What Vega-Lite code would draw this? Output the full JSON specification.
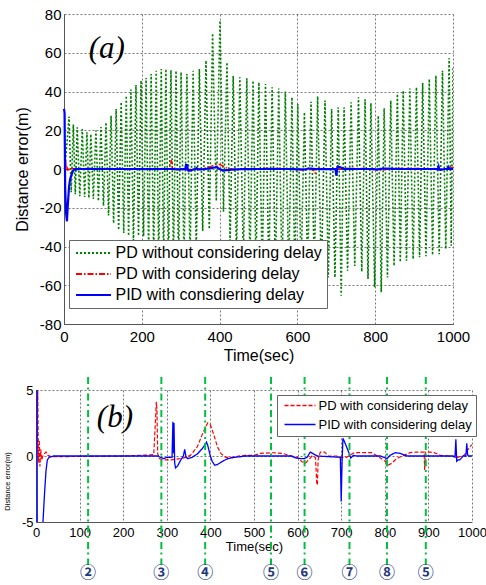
{
  "$schema": "https://vega.github.io/schema/vega-lite/v6.json",
  "padding": {"left": 3, "top": 7, "right": 0, "bottom": 0},
  "background": "white",
  "config": {
    "font": "Liberation Sans",
    "view": {"stroke": null},
    "locale": {"number": {"decimal": ".", "thousands": ",", "grouping": [3], "currency": ["$", ""], "minus": "-"}},
    "axis": {"ticks": false, "labelFlush": false, "labelOverlap": false, "domainColor": "#555555", "gridColor": "#555555", "gridDash": [2, 2], "gridWidth": 0.8, "gridOpacity": 1, "titleFontWeight": "normal", "labelColor": "black", "titleColor": "black", "grid": true},
    "legend": {"labelColor": "black", "labelFont": "Liberation Sans"}
  },
  "datasets": {
    "green": [{"t":3,"v":2},{"t":13,"v":27},{"t":18.5,"v":-12},{"t":24,"v":23},{"t":29,"v":-13},{"t":34,"v":21.5},{"t":40.5,"v":-14},{"t":47,"v":20.6},{"t":53,"v":-14.5},{"t":59,"v":19},{"t":64,"v":-15},{"t":69,"v":18},{"t":75.5,"v":-15.5},{"t":82,"v":19.8},{"t":88.5,"v":-16.5},{"t":95,"v":21.6},{"t":101.5,"v":-19},{"t":108,"v":24},{"t":114.5,"v":-24},{"t":121,"v":27.5},{"t":127.5,"v":-28},{"t":134,"v":31},{"t":140.5,"v":-31.5},{"t":147,"v":34.5},{"t":153.5,"v":-33},{"t":160,"v":37.8},{"t":166,"v":-34.5},{"t":172,"v":41},{"t":178.5,"v":-38},{"t":185,"v":43.4},{"t":191.5,"v":-34.5},{"t":198,"v":45.6},{"t":204.5,"v":-34.8},{"t":211,"v":47},{"t":217.5,"v":-42},{"t":224,"v":49},{"t":230.5,"v":-45},{"t":237,"v":50.7},{"t":243.5,"v":-47},{"t":250,"v":51.6},{"t":256,"v":-48},{"t":262,"v":51.6},{"t":268.5,"v":-50},{"t":275,"v":51},{"t":281.5,"v":-50},{"t":288,"v":50.7},{"t":294.5,"v":-50},{"t":301,"v":50},{"t":308.5,"v":-48},{"t":316,"v":49},{"t":324,"v":-46},{"t":332,"v":50.7},{"t":340,"v":-42},{"t":348,"v":51.6},{"t":356.5,"v":-32},{"t":365,"v":56},{"t":373.5,"v":-31},{"t":382,"v":70},{"t":391.5,"v":-16.5},{"t":401,"v":76.6},{"t":410,"v":-22},{"t":419,"v":55},{"t":427,"v":-38},{"t":435,"v":48},{"t":443.5,"v":-44},{"t":452,"v":47.3},{"t":461,"v":-46},{"t":470,"v":46.8},{"t":478,"v":-48},{"t":486,"v":45.6},{"t":493.5,"v":-50},{"t":501,"v":44.7},{"t":509.5,"v":-52},{"t":518,"v":43.9},{"t":526.5,"v":-53},{"t":535,"v":42.2},{"t":543.5,"v":-54},{"t":552,"v":41.6},{"t":560.5,"v":-55},{"t":569,"v":40},{"t":577.5,"v":-55},{"t":586,"v":37},{"t":593.5,"v":-55},{"t":601,"v":33.5},{"t":609.5,"v":-54},{"t":618,"v":29.3},{"t":626.5,"v":-52},{"t":635,"v":34.7},{"t":643.5,"v":-53},{"t":652,"v":37.5},{"t":661.5,"v":-55},{"t":671,"v":35.3},{"t":679.5,"v":-56},{"t":688,"v":31},{"t":696.5,"v":-56},{"t":705,"v":31.8},{"t":712.5,"v":-65.4},{"t":720,"v":31.8},{"t":729,"v":-52.5},{"t":738,"v":34.4},{"t":747.5,"v":-50},{"t":757,"v":37},{"t":765.5,"v":-53},{"t":774,"v":36},{"t":781.5,"v":-56.8},{"t":789,"v":34},{"t":798.5,"v":-61},{"t":808,"v":27.5},{"t":815.5,"v":-63.6},{"t":823,"v":31.3},{"t":831.5,"v":-56},{"t":840,"v":35.3},{"t":848.5,"v":-50},{"t":857,"v":38.7},{"t":864.5,"v":-48},{"t":872,"v":40.4},{"t":880.5,"v":-47.3},{"t":889,"v":41.6},{"t":897.5,"v":-46.5},{"t":906,"v":42.2},{"t":914,"v":-45.6},{"t":922,"v":44.4},{"t":930.5,"v":-45},{"t":939,"v":46.5},{"t":947.5,"v":-44.4},{"t":956,"v":48.2},{"t":964.5,"v":-44},{"t":973,"v":50.7},{"t":981.5,"v":-41.3},{"t":990,"v":57.1},{"t":995.5,"v":-39.6},{"t":1000,"v":52}],
    "red": [{"t":0,"v":0},{"t":2,"v":0.5},{"t":4,"v":5},{"t":5.5,"v":-0.5},{"t":7.5,"v":1.2},{"t":9,"v":-0.8},{"t":11,"v":0.5},{"t":13,"v":-0.3},{"t":16,"v":0.05},{"t":20,"v":0.2},{"t":23,"v":0.3},{"t":27,"v":0.05},{"t":35,"v":-0.05},{"t":120,"v":-0.03},{"t":200,"v":0},{"t":260,"v":0.08},{"t":270,"v":0.1},{"t":273,"v":2.0},{"t":276,"v":4.1},{"t":277.5,"v":3.5},{"t":279,"v":0.2},{"t":283,"v":-0.2},{"t":290,"v":-0.3},{"t":310,"v":-0.3},{"t":318,"v":-0.25},{"t":330,"v":-0.2},{"t":345,"v":-0.1},{"t":355,"v":0.08},{"t":370,"v":0.7},{"t":381,"v":1.6},{"t":389,"v":2.2},{"t":394,"v":2.5},{"t":400,"v":2.35},{"t":408,"v":1.6},{"t":416,"v":0.7},{"t":424,"v":0.2},{"t":435,"v":-0.1},{"t":450,"v":-0.1},{"t":465,"v":0},{"t":480,"v":0.05},{"t":500,"v":0.05},{"t":515,"v":0.2},{"t":540,"v":0.25},{"t":565,"v":0.2},{"t":580,"v":0.05},{"t":599,"v":-0.1},{"t":610,"v":-0.43},{"t":618,"v":-0.55},{"t":625,"v":-0.3},{"t":633,"v":0},{"t":641,"v":-0.1},{"t":644,"v":-2.1},{"t":645.5,"v":-2.2},{"t":647,"v":-0.3},{"t":652,"v":0.3},{"t":662,"v":0.3},{"t":670,"v":0},{"t":690,"v":0},{"t":700,"v":-0.1},{"t":712,"v":-0.1},{"t":720,"v":0.05},{"t":730,"v":0.25},{"t":770,"v":0.25},{"t":780,"v":0.05},{"t":790,"v":-0.15},{"t":801,"v":-0.4},{"t":808,"v":-0.68},{"t":816,"v":-0.55},{"t":827,"v":-0.2},{"t":843,"v":0.05},{"t":858,"v":0.25},{"t":873,"v":0.3},{"t":890,"v":0.3},{"t":891.5,"v":-1.06},{"t":893,"v":0.3},{"t":904,"v":0.3},{"t":913,"v":0.25},{"t":928,"v":0.05},{"t":945,"v":0},{"t":960,"v":0},{"t":967,"v":-0.1},{"t":982,"v":0.05},{"t":995,"v":0.7},{"t":1000,"v":0.85}],
    "blue": [{"t":0,"v":31},{"t":1.5,"v":29},{"t":3,"v":-10},{"t":5,"v":-22},{"t":7.5,"v":-27},{"t":10,"v":-18},{"t":13,"v":-9},{"t":16,"v":-5},{"t":18,"v":-3.8},{"t":20,"v":-2.6},{"t":23,"v":-1.1},{"t":26,"v":-0.3},{"t":30,"v":-0.1},{"t":40,"v":0},{"t":280,"v":0},{"t":285,"v":-0.1},{"t":293,"v":-0.2},{"t":300,"v":-0.1},{"t":312,"v":-0.1},{"t":314,"v":2.6},{"t":315.5,"v":0.2},{"t":316.5,"v":2.5},{"t":318,"v":-0.5},{"t":320,"v":-0.9},{"t":325,"v":-0.75},{"t":332,"v":-0.3},{"t":338,"v":0},{"t":341,"v":0.5},{"t":344,"v":-0.05},{"t":348,"v":-0.2},{"t":358,"v":-0.1},{"t":370,"v":0.15},{"t":381,"v":0.55},{"t":389,"v":0.9},{"t":391,"v":1.05},{"t":394,"v":0.8},{"t":399,"v":0.1},{"t":404,"v":-0.4},{"t":410,"v":-0.7},{"t":416,"v":-0.65},{"t":428,"v":-0.4},{"t":440,"v":-0.2},{"t":455,"v":-0.1},{"t":470,"v":-0.05},{"t":480,"v":0},{"t":585,"v":0},{"t":596,"v":-0.15},{"t":608,"v":-0.2},{"t":614,"v":-0.2},{"t":622,"v":-0.1},{"t":629,"v":0.3},{"t":637,"v":0.15},{"t":645,"v":0},{"t":698,"v":-0.1},{"t":700,"v":-3.45},{"t":702,"v":-0.5},{"t":704,"v":1.35},{"t":706,"v":1.2},{"t":711,"v":0.8},{"t":717,"v":0.3},{"t":722,"v":-0.15},{"t":728,"v":0.05},{"t":736,"v":0},{"t":790,"v":0},{"t":798,"v":-0.1},{"t":805,"v":-0.2},{"t":812,"v":0.05},{"t":824,"v":0.25},{"t":835,"v":0.2},{"t":851,"v":0},{"t":955,"v":0},{"t":961,"v":-0.1},{"t":963,"v":1.26},{"t":965,"v":-0.4},{"t":968,"v":-0.3},{"t":972,"v":-0.3},{"t":980,"v":0},{"t":986,"v":0},{"t":988,"v":0.96},{"t":990,"v":0.1},{"t":992,"v":0},{"t":1000,"v":0}],
    "events": [{"t":119.5,"n":"②"},{"t":287.5,"n":"③"},{"t":388,"n":"④"},{"t":539,"n":"⑤"},{"t":616,"n":"⑥"},{"t":719,"n":"⑦"},{"t":805,"n":"⑧"},{"t":894,"n":"⑤"}]
  },
  "spacing": 13,
  "resolve": {
    "scale": {"color": "independent", "strokeDash": "independent"},
    "legend": {"color": "independent", "strokeDash": "independent"}
  },
  "vconcat": [
    {
      "width": 417,
      "height": 310,
      "layer": [
        {
          "data": {"name": "green"},
          "mark": {"type": "line", "strokeWidth": 1.6, "clip": true},
          "encoding": {
            "x": {"field": "t", "type": "quantitative", "scale": {"domain": [0, 1000], "range": [28, 417], "nice": false, "zero": false},
                  "axis": {"values": [0, 200, 400, 600, 800, 1000], "format": "d", "labelFontSize": 15, "labelPadding": 5, "title": "Time(sec)", "titleFontSize": 16, "titlePadding": 3}},
            "y": {"field": "v", "type": "quantitative", "scale": {"domain": [-80, 80], "nice": false, "zero": false},
                  "axis": {"values": [-80, -60, -40, -20, 0, 20, 40, 60, 80], "format": "d", "labelFontSize": 15, "labelPadding": 3, "title": "Distance error(m)", "titleFontSize": 16, "titleX": -34, "offset": -28}},
            "color": {"datum": "PD without considering delay", "type": "nominal",
                      "scale": {"domain": ["PD without considering delay", "PD with considering delay", "PID with consdiering delay"], "range": ["#008000", "#ff0000", "#0000ff"]},
                      "legend": {"orient": "none", "legendX": 33, "legendY": 226, "title": null, "symbolType": "M-2.5,0H2.5", "symbolSize": 196, "symbolOffset": 11.5, "symbolStrokeWidth": 1.8, "labelFontSize": 16, "labelOffset": 14, "labelLimit": 400, "padding": 5, "rowPadding": 5, "fillColor": "white", "strokeColor": "#666666"}},
            "strokeDash": {"datum": "PD without considering delay", "type": "nominal",
                      "scale": {"domain": ["PD without considering delay", "PD with considering delay", "PID with consdiering delay"], "range": [[2, 2], [6, 2, 1.5, 2], [1, 0]]},
                      "legend": {"orient": "none", "legendX": 33, "legendY": 226, "title": null, "symbolType": "M-2.5,0H2.5", "symbolSize": 196, "symbolOffset": 11.5, "symbolStrokeWidth": 1.8, "labelFontSize": 16, "labelOffset": 14, "labelLimit": 400, "padding": 5, "rowPadding": 5, "fillColor": "white", "strokeColor": "#666666"}}
          }
        },
        {
          "data": {"name": "red"},
          "mark": {"type": "line", "strokeWidth": 1.5, "clip": true},
          "encoding": {
            "x": {"field": "t", "type": "quantitative", "scale": {"domain": [0, 1000], "range": [28, 417], "nice": false, "zero": false},
                  "axis": {"values": [0, 200, 400, 600, 800, 1000], "format": "d", "labelFontSize": 15, "labelPadding": 5, "title": "Time(sec)", "titleFontSize": 16, "titlePadding": 3}},
            "y": {"field": "v", "type": "quantitative", "scale": {"domain": [-80, 80], "nice": false, "zero": false},
                  "axis": {"values": [-80, -60, -40, -20, 0, 20, 40, 60, 80], "format": "d", "labelFontSize": 15, "labelPadding": 3, "title": "Distance error(m)", "titleFontSize": 16, "titleX": -34, "offset": -28}},
            "color": {"datum": "PD with considering delay", "type": "nominal"},
            "strokeDash": {"datum": "PD with considering delay", "type": "nominal"}
          }
        },
        {
          "data": {"name": "blue"},
          "mark": {"type": "line", "strokeWidth": 2.2, "clip": true},
          "encoding": {
            "x": {"field": "t", "type": "quantitative", "scale": {"domain": [0, 1000], "range": [28, 417], "nice": false, "zero": false},
                  "axis": {"values": [0, 200, 400, 600, 800, 1000], "format": "d", "labelFontSize": 15, "labelPadding": 5, "title": "Time(sec)", "titleFontSize": 16, "titlePadding": 3}},
            "y": {"field": "v", "type": "quantitative", "scale": {"domain": [-80, 80], "nice": false, "zero": false},
                  "axis": {"values": [-80, -60, -40, -20, 0, 20, 40, 60, 80], "format": "d", "labelFontSize": 15, "labelPadding": 3, "title": "Distance error(m)", "titleFontSize": 16, "titleX": -34, "offset": -28}},
            "color": {"datum": "PID with consdiering delay", "type": "nominal"},
            "strokeDash": {"datum": "PID with consdiering delay", "type": "nominal"}
          }
        },
        {
          "data": {"values": [{}]},
          "mark": {"type": "text", "text": "(a)", "font": "Liberation Serif", "fontStyle": "italic", "fontSize": 31, "color": "black", "baseline": "middle", "align": "center"},
          "encoding": {
            "x": {"datum": 110, "type": "quantitative", "scale": {"domain": [0, 1000], "range": [28, 417], "nice": false, "zero": false},
                  "axis": {"values": [0, 200, 400, 600, 800, 1000], "format": "d", "labelFontSize": 15, "labelPadding": 5, "title": "Time(sec)", "titleFontSize": 16, "titlePadding": 3}},
            "y": {"datum": 62, "type": "quantitative", "scale": {"domain": [-80, 80], "nice": false, "zero": false},
                  "axis": {"values": [-80, -60, -40, -20, 0, 20, 40, 60, 80], "format": "d", "labelFontSize": 15, "labelPadding": 3, "title": "Distance error(m)", "titleFontSize": 16, "titleX": -34, "offset": -28}}
          }
        }
      ]
    },
    {
      "width": 436,
      "height": 132,
      "layer": [
        {
          "data": {"name": "red"},
          "mark": {"type": "line", "strokeWidth": 1.2, "clip": true},
          "encoding": {
            "x": {"field": "t", "type": "quantitative", "scale": {"domain": [0, 1000], "nice": false, "zero": false},
                  "axis": {"values": [0, 100, 200, 300, 400, 500, 600, 700, 800, 900, 1000], "format": "d", "labelFontSize": 13, "labelPadding": 4, "title": "Time(sec)", "titleFontSize": 13, "titlePadding": 1}},
            "y": {"field": "v", "type": "quantitative", "scale": {"domain": [-5, 5], "nice": false, "zero": false},
                  "axis": {"values": [-5, 0, 5], "format": "d", "labelFontSize": 13, "labelPadding": 3, "title": "Distance error(m)", "titleFontSize": 7.5, "titleX": -24.5, "titleY": 91, "minExtent": 18, "maxExtent": 18}},
            "color": {"datum": "PD with considering delay", "type": "nominal",
                      "scale": {"domain": ["PD with considering delay", "PID with considering delay"], "range": ["#ff0000", "#0000ff"]},
                      "legend": {"orient": "none", "legendX": 241, "legendY": 5, "title": null, "symbolType": "M-3.1,0H3.1", "symbolSize": 100, "symbolOffset": 12.5, "symbolStrokeWidth": 1.3, "labelFontSize": 13, "labelOffset": 12, "labelLimit": 400, "padding": 4, "rowPadding": 5, "fillColor": "white", "strokeColor": "#666666"}},
            "strokeDash": {"datum": "PD with considering delay", "type": "nominal",
                      "scale": {"domain": ["PD with considering delay", "PID with considering delay"], "range": [[4, 2], [1, 0]]},
                      "legend": {"orient": "none", "legendX": 241, "legendY": 5, "title": null, "symbolType": "M-3.1,0H3.1", "symbolSize": 100, "symbolOffset": 12.5, "symbolStrokeWidth": 1.3, "labelFontSize": 13, "labelOffset": 12, "labelLimit": 400, "padding": 4, "rowPadding": 5, "fillColor": "white", "strokeColor": "#666666"}}
          }
        },
        {
          "data": {"name": "blue"},
          "mark": {"type": "line", "strokeWidth": 1.3, "clip": true},
          "encoding": {
            "x": {"field": "t", "type": "quantitative", "scale": {"domain": [0, 1000], "nice": false, "zero": false},
                  "axis": {"values": [0, 100, 200, 300, 400, 500, 600, 700, 800, 900, 1000], "format": "d", "labelFontSize": 13, "labelPadding": 4, "title": "Time(sec)", "titleFontSize": 13, "titlePadding": 1}},
            "y": {"field": "v", "type": "quantitative", "scale": {"domain": [-5, 5], "nice": false, "zero": false},
                  "axis": {"values": [-5, 0, 5], "format": "d", "labelFontSize": 13, "labelPadding": 3, "title": "Distance error(m)", "titleFontSize": 7.5, "titleX": -24.5, "titleY": 91, "minExtent": 18, "maxExtent": 18}},
            "color": {"datum": "PID with considering delay", "type": "nominal"},
            "strokeDash": {"datum": "PID with considering delay", "type": "nominal"}
          }
        },
        {
          "data": {"name": "events"},
          "mark": {"type": "rule", "color": "#00c040", "strokeWidth": 2, "strokeDash": [7, 3.5, 2, 4], "clip": false},
          "encoding": {
            "x": {"field": "t", "type": "quantitative", "scale": {"domain": [0, 1000], "nice": false, "zero": false},
                  "axis": {"values": [0, 100, 200, 300, 400, 500, 600, 700, 800, 900, 1000], "format": "d", "labelFontSize": 13, "labelPadding": 4, "title": "Time(sec)", "titleFontSize": 13, "titlePadding": 1}},
            "y": {"datum": 5.98, "type": "quantitative", "scale": {"domain": [-5, 5], "nice": false, "zero": false},
                  "axis": {"values": [-5, 0, 5], "format": "d", "labelFontSize": 13, "labelPadding": 3, "title": "Distance error(m)", "titleFontSize": 7.5, "titleX": -24.5, "titleY": 91, "minExtent": 18, "maxExtent": 18}},
            "y2": {"datum": -8.26}
          }
        },
        {
          "data": {"name": "events"},
          "mark": {"type": "text", "font": "Noto Sans CJK JP", "fontSize": 16, "fontWeight": "bold", "color": "#1f3a7a", "baseline": "middle", "align": "center", "clip": false},
          "encoding": {
            "x": {"field": "t", "type": "quantitative", "scale": {"domain": [0, 1000], "nice": false, "zero": false},
                  "axis": {"values": [0, 100, 200, 300, 400, 500, 600, 700, 800, 900, 1000], "format": "d", "labelFontSize": 13, "labelPadding": 4, "title": "Time(sec)", "titleFontSize": 13, "titlePadding": 1}},
            "y": {"datum": -8.9, "type": "quantitative", "scale": {"domain": [-5, 5], "nice": false, "zero": false},
                  "axis": {"values": [-5, 0, 5], "format": "d", "labelFontSize": 13, "labelPadding": 3, "title": "Distance error(m)", "titleFontSize": 7.5, "titleX": -24.5, "titleY": 91, "minExtent": 18, "maxExtent": 18}},
            "text": {"field": "n", "type": "nominal"}
          }
        },
        {
          "data": {"values": [{}]},
          "mark": {"type": "text", "text": "(b)", "font": "Liberation Serif", "fontStyle": "italic", "fontSize": 31, "color": "black", "baseline": "middle", "align": "center"},
          "encoding": {
            "x": {"datum": 181, "type": "quantitative", "scale": {"domain": [0, 1000], "nice": false, "zero": false},
                  "axis": {"values": [0, 100, 200, 300, 400, 500, 600, 700, 800, 900, 1000], "format": "d", "labelFontSize": 13, "labelPadding": 4, "title": "Time(sec)", "titleFontSize": 13, "titlePadding": 1}},
            "y": {"datum": 2.9, "type": "quantitative", "scale": {"domain": [-5, 5], "nice": false, "zero": false},
                  "axis": {"values": [-5, 0, 5], "format": "d", "labelFontSize": 13, "labelPadding": 3, "title": "Distance error(m)", "titleFontSize": 7.5, "titleX": -24.5, "titleY": 91, "minExtent": 18, "maxExtent": 18}}
          }
        }
      ]
    }
  ]
}
